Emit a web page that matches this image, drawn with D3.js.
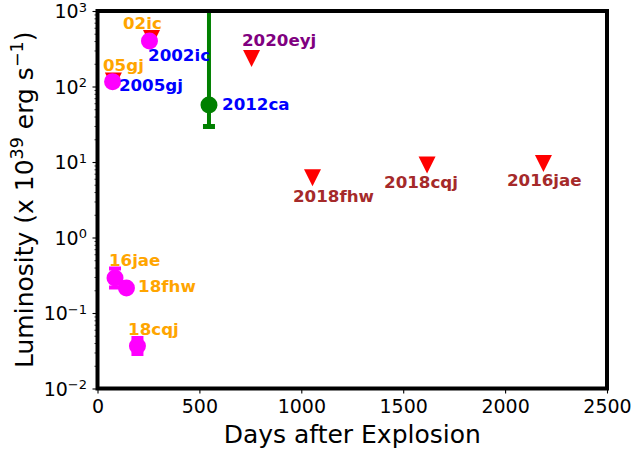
<!DOCTYPE html>
<html>
<head>
<meta charset="utf-8">
<script src="https://cdn.jsdelivr.net/npm/d3@7"></script>
<style>
  body { margin: 0; background: #fff; }
  svg { font-family: "DejaVu Sans", sans-serif; }
</style>
</head>
<body>
<div id="chart"></div>
<script>
// detections (magenta points)
const detNames = ["2002ic", "2005gj", "2016jae", "2018fhw", "2018cqj"];
const detDays = [255, 74, 86, 142, 196];
const detLum = [400, 116, 0.291, 0.214, 0.0366];
const detLo = [null, null, 0.218, null, 0.0287];
const detHi = [null, null, 0.389, null, 0.0466];

// upper limits (red triangles)
const limNames = ["2002ic", "2005gj", "2020eyj", "2018fhw", "2018cqj", "2016jae"];
const limDays = [265, 78, 756, 1055, 1617, 2188];
const limLum = [433, 118, 235, 6.2, 9.1, 9.55];

// 2012ca (green, with error bar)
const caDays = [547];
const caLum = [57];
const caLo = [29.5];
const caHi = [3000];

// text labels, placed in data coords
const labelText = ["02ic", "2002ic", "05gj", "2005gj", "2012ca", "2020eyj",
  "2018fhw", "2018cqj", "2016jae", "16jae", "18fhw", "18cqj"];
const labelDays = [125, 248, 27, 105, 611, 709, 959, 1406, 2009, 56, 199, 150];
const labelLum = [569, 220, 160, 88, 48.9, 347, 2.95, 4.57, 4.85, 0.424, 0.188, 0.0512];
const labelColor = ["orange", "blue", "orange", "blue", "blue", "purple",
  "brown", "brown", "brown", "orange", "orange", "orange"];

const xTicks = [0, 500, 1000, 1500, 2000, 2500];
const yExp = [-2, -1, 0, 1, 2, 3];

const W = 634, H = 458;
const pL = 97.5, pR = 607, pT = 11, pB = 388.5;

const svg = d3.select("#chart").append("svg")
  .attr("width", W).attr("height", H);

const x = d3.scaleLinear().domain([0, 2500]).range([pL, pR]);
const y = d3.scaleLog().domain([1e-2, 1e3]).range([pB, pT]);

svg.append("defs").append("clipPath").attr("id", "clip")
  .append("rect")
  .attr("x", pL).attr("y", pT)
  .attr("width", pR - pL).attr("height", pB - pT);

const plot = svg.append("g").attr("clip-path", "url(#clip)");

// triangles (pointing down)
const triPath = "M0,8.5L-8.5,-8.5L8.5,-8.5Z";
plot.append("g")
  .selectAll("path")
  .data(limDays.map((d, i) => ({ d: d, l: limLum[i] })))
  .join("path")
  .attr("d", triPath)
  .attr("transform", d => `translate(${x(d.d)},${y(d.l)})`)
  .attr("fill", "red");

// green error bar + point
const caData = caDays.map((d, i) => ({ d: d, l: caLum[i], lo: caLo[i], hi: caHi[i] }));
const ca = plot.append("g");
ca.selectAll("line.err")
  .data(caData)
  .join("line")
  .attr("x1", d => x(d.d)).attr("x2", d => x(d.d))
  .attr("y1", d => y(d.lo)).attr("y2", d => y(d.hi))
  .attr("stroke", "green").attr("stroke-width", 4);
ca.selectAll("line.cap")
  .data(caData.flatMap(d => [{ d: d.d, v: d.lo }, { d: d.d, v: d.hi }]))
  .join("line")
  .attr("x1", d => x(d.d) - 6).attr("x2", d => x(d.d) + 6)
  .attr("y1", d => y(d.v)).attr("y2", d => y(d.v))
  .attr("stroke", "green").attr("stroke-width", 5);
ca.selectAll("circle")
  .data(caData)
  .join("circle")
  .attr("cx", d => x(d.d)).attr("cy", d => y(d.l))
  .attr("r", 8.5).attr("fill", "green");

// magenta points
const detData = detDays.map((d, i) => ({ d: d, l: detLum[i], lo: detLo[i], hi: detHi[i] }));
const det = plot.append("g");
const withErr = detData.filter(d => d.lo != null);
det.selectAll("line.err")
  .data(withErr)
  .join("line")
  .attr("x1", d => x(d.d)).attr("x2", d => x(d.d))
  .attr("y1", d => y(d.lo)).attr("y2", d => y(d.hi))
  .attr("stroke", "magenta").attr("stroke-width", 4);
det.selectAll("line.cap")
  .data(withErr.flatMap(d => [{ d: d.d, v: d.lo }, { d: d.d, v: d.hi }]))
  .join("line")
  .attr("x1", d => x(d.d) - 6).attr("x2", d => x(d.d) + 6)
  .attr("y1", d => y(d.v)).attr("y2", d => y(d.v))
  .attr("stroke", "magenta").attr("stroke-width", 4);
det.selectAll("circle")
  .data(detData)
  .join("circle")
  .attr("cx", d => x(d.d)).attr("cy", d => y(d.l))
  .attr("r", 8.5).attr("fill", "magenta");

// labels
svg.append("g")
  .selectAll("text")
  .data(labelText.map((t, i) => ({ t: t, d: labelDays[i], l: labelLum[i], c: labelColor[i] })))
  .join("text")
  .attr("x", d => x(d.d)).attr("y", d => y(d.l))
  .attr("fill", d => d.c)
  .attr("font-size", "16.7px")
  .attr("font-weight", "bold")
  .text(d => d.t);

// axes
const xAxis = svg.append("g")
  .attr("transform", `translate(0,${pB})`)
  .call(d3.axisBottom(x).tickValues(xTicks).tickSize(5).tickPadding(6).tickFormat(d3.format("d")));
xAxis.select(".domain").remove();
xAxis.selectAll(".tick line").attr("stroke-width", 1.1);
xAxis.selectAll(".tick text")
  .attr("font-size", "19px").attr("font-family", "DejaVu Sans").attr("fill", "#000");

const minors = [];
for (let e = -2; e < 3; e++) for (let m = 2; m <= 9; m++) minors.push(m * Math.pow(10, e));

const yMinor = svg.append("g")
  .attr("transform", `translate(${pL},0)`)
  .call(d3.axisLeft(y).tickValues(minors).tickSize(3).tickFormat(""));
yMinor.select(".domain").remove();
yMinor.selectAll(".tick line").attr("stroke-width", 0.8);

const yAxis = svg.append("g")
  .attr("transform", `translate(${pL},0)`)
  .call(d3.axisLeft(y).tickValues(yExp.map(e => Math.pow(10, e))).tickSize(5).tickFormat(""));
yAxis.select(".domain").remove();
yAxis.selectAll(".tick line").attr("stroke-width", 1.1);

const yLab = svg.append("g")
  .selectAll("text")
  .data(yExp)
  .join("text")
  .attr("x", 87)
  .attr("y", e => y(Math.pow(10, e)) + 7)
  .attr("text-anchor", "end")
  .attr("font-size", "19px");
yLab.append("tspan").text("10");
yLab.append("tspan")
  .attr("dy", -6.5).attr("font-size", "13px")
  .text(e => (e < 0 ? "\u2212" : "") + Math.abs(e));

// frame
svg.append("rect")
  .attr("x", pL).attr("y", pT)
  .attr("width", pR - pL).attr("height", pB - pT)
  .attr("fill", "none").attr("stroke", "#000").attr("stroke-width", 4);

// axis titles
svg.append("text")
  .attr("x", (pL + pR) / 2).attr("y", 443)
  .attr("text-anchor", "middle")
  .attr("font-size", "25px")
  .text("Days after Explosion");

const yt = svg.append("text")
  .attr("transform", `translate(33,${(pT + pB) / 2}) rotate(-90)`)
  .attr("text-anchor", "middle")
  .attr("font-size", "25px");
yt.append("tspan").text("Luminosity (x 10");
yt.append("tspan").attr("dy", -10).attr("font-size", "17.5px").text("39");
yt.append("tspan").attr("dy", 10).text(" erg s");
yt.append("tspan").attr("dy", -10).attr("font-size", "17.5px").text("\u22121");
yt.append("tspan").attr("dy", 10).text(")");
</script>
</body>
</html>
